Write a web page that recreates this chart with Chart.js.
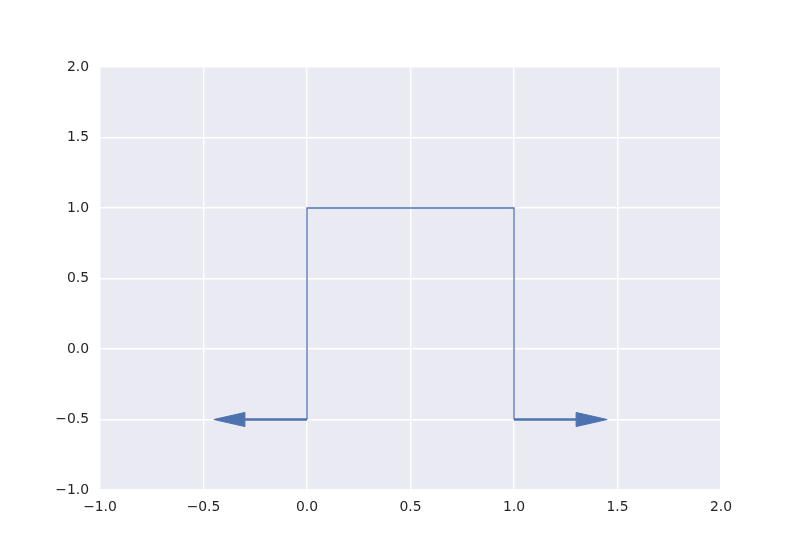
<!DOCTYPE html>
<html>
<head>
<meta charset="utf-8">
<script src="https://cdn.jsdelivr.net/npm/chart.js@4.4.1/dist/chart.umd.min.js"></script>
<style>
  html, body { margin: 0; padding: 0; background: #ffffff; }
  #wrap { width: 800px; height: 550px; position: relative; }
</style>
</head>
<body>
<div id="wrap"><canvas id="c" width="800" height="550"></canvas></div>
<script>
// ---- data ----
const stepX = [0, 0, 1, 1];
const stepY = [-0.5, 1, 1, -0.5];
const arrowStartX = [0, 1];
const arrowStartY = [-0.5, -0.5];
const arrowDx = [-0.3, 0.3];
const headLength = 0.15;
const headWidth = 0.1;
const xTicks = [-1.0, -0.5, 0.0, 0.5, 1.0, 1.5, 2.0];
const yTicks = [-1.0, -0.5, 0.0, 0.5, 1.0, 1.5, 2.0];

const lineColor = '#4C72B0';
const textColor = '#262626';
const fontFamily = '"DejaVu Sans", sans-serif';
const fontSize = 13.9;

const stepPoints = stepX.map((x, i) => ({ x: x, y: stepY[i] }));
const shaftDatasets = arrowStartX.map((x0, i) => ({
  data: [{ x: x0, y: arrowStartY[i] }, { x: x0 + arrowDx[i], y: arrowStartY[i] }],
  showLine: true,
  borderColor: lineColor,
  borderWidth: 2.4,
  pointRadius: 0,
  tension: 0
}));

const bgPlugin = {
  id: 'bg',
  beforeDraw(chart) {
    const { ctx, chartArea: a } = chart;
    ctx.save();
    ctx.fillStyle = '#EAEAF2';
    ctx.fillRect(a.left, a.top, a.right - a.left, a.bottom - a.top);
    ctx.restore();
  }
};

const arrowHeadPlugin = {
  id: 'arrowHeads',
  afterDatasetsDraw(chart) {
    const { ctx } = chart;
    const xs = chart.scales.x, ys = chart.scales.y;
    ctx.save();
    ctx.fillStyle = lineColor;
    ctx.strokeStyle = lineColor;
    ctx.lineWidth = 1;
    arrowStartX.forEach((x0, i) => {
      const dir = Math.sign(arrowDx[i]);
      const bx = x0 + arrowDx[i];
      const tx = bx + dir * headLength;
      const y = arrowStartY[i];
      ctx.beginPath();
      ctx.moveTo(xs.getPixelForValue(bx), ys.getPixelForValue(y + headWidth / 2));
      ctx.lineTo(xs.getPixelForValue(tx), ys.getPixelForValue(y));
      ctx.lineTo(xs.getPixelForValue(bx), ys.getPixelForValue(y - headWidth / 2));
      ctx.closePath();
      ctx.fill();
      ctx.stroke();
    });
    ctx.restore();
  }
};

const fmt = v => {
  const s = Number(v).toFixed(1);
  return s.replace('-', '\u2212');
};

new Chart(document.getElementById('c'), {
  type: 'scatter',
  data: {
    datasets: [
      {
        data: stepPoints,
        showLine: true,
        borderColor: lineColor,
        borderWidth: 1.3,
        pointRadius: 0,
        tension: 0
      },
      ...shaftDatasets
    ]
  },
  options: {
    responsive: false,
    animation: false,
    devicePixelRatio: 1,
    layout: { padding: { left: 0, right: 79, top: 67, bottom: 0 } },
    plugins: { legend: { display: false }, tooltip: { enabled: false } },
    scales: {
      x: {
        type: 'linear',
        min: -1, max: 2,
        afterBuildTicks: s => { s.ticks = xTicks.map(v => ({ value: v })); },
        afterFit: s => { s.height = 60; },
        grid: { color: '#ffffff', lineWidth: 1.4, drawTicks: false },
        border: { display: false },
        ticks: {
          padding: 9,
          color: textColor,
          font: { family: fontFamily, size: fontSize },
          callback: v => fmt(v),
          maxRotation: 0
        }
      },
      y: {
        type: 'linear',
        min: -1, max: 2,
        afterBuildTicks: s => { s.ticks = yTicks.map(v => ({ value: v })); },
        afterFit: s => { s.width = 100; },
        grid: { color: '#ffffff', lineWidth: 1.4, drawTicks: false },
        border: { display: false },
        ticks: {
          padding: 11,
          color: textColor,
          font: { family: fontFamily, size: fontSize },
          callback: v => fmt(v)
        }
      }
    }
  },
  plugins: [bgPlugin, arrowHeadPlugin]
});
</script>
</body>
</html>
